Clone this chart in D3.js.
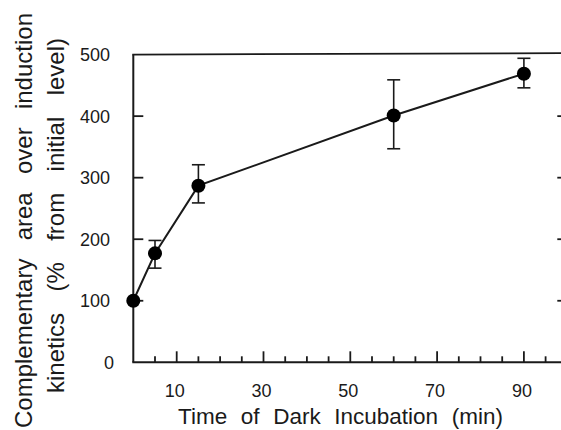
<!DOCTYPE html>
<html>
<head>
<meta charset="utf-8">
<script src="https://cdn.jsdelivr.net/npm/d3@7"></script>
<style>
  html, body { margin: 0; padding: 0; background: #fff; overflow: hidden; }
  svg { display: block; font-family: "Liberation Sans", Arial, Helvetica, sans-serif; }
</style>
</head>
<body>
<svg id="chart" width="561" height="430"></svg>
<script>
// ---- data ----
const times  = [0, 5, 15, 60, 90];
const values = [100, 177, 287, 401, 469];
const upper  = [100, 198, 321, 459, 494];
const lower  = [100, 153, 259, 347, 446];
const yTickValues = [0, 100, 200, 300, 400, 500];
const xLabelValues = [10, 30, 50, 70, 90];
const xMinorTicks = d3.range(5, 100, 5);
const xTitleWords = ["Time", "of", "Dark", "Incubation", "(min)"];
const yTitleLine1 = ["Complementary", "area", "over", "induction"];
const yTitleLine2 = ["kinetics", "(%", "from", "initial", "level)"];

const svg = d3.select("#chart");
const ink = "#1a1a1a";

const x = d3.scaleLinear().domain([0, 100]).range([133.3, 567.3]);
const y = d3.scaleLinear().domain([0, 500]).range([362.3, 54.6]);

// frame: left, bottom, top (right spine lies beyond the canvas edge)
svg.append("line").attr("x1", x(0)).attr("x2", x(0)).attr("y1", y(0)).attr("y2", y(500))
  .attr("stroke", ink).attr("stroke-width", 2);
svg.append("line").attr("x1", x(0) - 1).attr("x2", 561).attr("y1", y(0)).attr("y2", y(0))
  .attr("stroke", ink).attr("stroke-width", 2);
svg.append("line").attr("x1", x(0) - 1).attr("x2", 561).attr("y1", y(500)).attr("y2", y(500) - 1.5)
  .attr("stroke", ink).attr("stroke-width", 1.8);

// x ticks (inward)
const major = new Set(xLabelValues);
svg.append("g").selectAll("line").data(xMinorTicks).join("line")
  .attr("x1", d => x(d)).attr("x2", d => x(d))
  .attr("y1", y(0)).attr("y2", d => y(0) - (major.has(d) ? 11 : 6))
  .attr("stroke", ink).attr("stroke-width", 1.8);

// x tick labels
svg.append("g").selectAll("text").data(xLabelValues).join("text")
  .attr("x", d => x(d) - 2).attr("y", 396.5)
  .attr("text-anchor", "middle").attr("font-size", 18).attr("fill", ink)
  .text(d => d);

// y ticks (inward, both sides)
const inner = yTickValues.filter(v => v > 0 && v < 500);
svg.append("g").selectAll("line").data(inner).join("line")
  .attr("x1", x(0)).attr("x2", x(0) + 10)
  .attr("y1", d => y(d)).attr("y2", d => y(d))
  .attr("stroke", ink).attr("stroke-width", 1.8);
svg.append("g").selectAll("line").data(inner).join("line")
  .attr("x1", x(100)).attr("x2", x(100) - 10)
  .attr("y1", d => y(d)).attr("y2", d => y(d))
  .attr("stroke", ink).attr("stroke-width", 1.8);

// y tick labels
svg.append("g").selectAll("text").data(yTickValues).join("text")
  .attr("x", d => d === 0 ? 114 : 110).attr("y", d => y(d))
  .attr("dy", "0.36em")
  .attr("text-anchor", "end").attr("font-size", 18).attr("fill", ink)
  .text(d => d);

// error bars
const cap = 6.5;
const eb = svg.append("g").attr("stroke", ink).attr("stroke-width", 1.6);
times.forEach((t, i) => {
  if (upper[i] === lower[i]) return;
  eb.append("line").attr("x1", x(t)).attr("x2", x(t)).attr("y1", y(upper[i])).attr("y2", y(lower[i]));
  eb.append("line").attr("x1", x(t) - cap).attr("x2", x(t) + cap).attr("y1", y(upper[i])).attr("y2", y(upper[i]));
  eb.append("line").attr("x1", x(t) - cap).attr("x2", x(t) + cap).attr("y1", y(lower[i])).attr("y2", y(lower[i]));
});

// line
const pts = times.map((t, i) => [t, values[i]]);
svg.append("path").datum(pts)
  .attr("d", d3.line().x(d => x(d[0])).y(d => y(d[1])))
  .attr("fill", "none").attr("stroke", ink).attr("stroke-width", 2);

// markers
svg.append("g").selectAll("circle").data(pts).join("circle")
  .attr("cx", d => x(d[0])).attr("cy", d => y(d[1])).attr("r", 7)
  .attr("fill", "#000");

// justified text helper
function justify(g, words, length, size) {
  const els = words.map(w => g.append("text").text(w).attr("font-size", size).attr("fill", ink));
  const widths = els.map(e => e.node().getComputedTextLength());
  const gap = (length - d3.sum(widths)) / (words.length - 1);
  let pos = 0;
  els.forEach((e, i) => { e.attr("x", pos).attr("y", 0); pos += widths[i] + gap; });
}

// x title
justify(svg.append("g").attr("transform", "translate(178,424)"), xTitleWords, 325, 22.5);

// y title lines (rotated, reading bottom to top)
justify(svg.append("g").attr("transform", "translate(32,428) rotate(-90)"), yTitleLine1, 415, 24);
justify(svg.append("g").attr("transform", "translate(64,393) rotate(-90)"), yTitleLine2, 355, 24);
</script>
</body>
</html>
